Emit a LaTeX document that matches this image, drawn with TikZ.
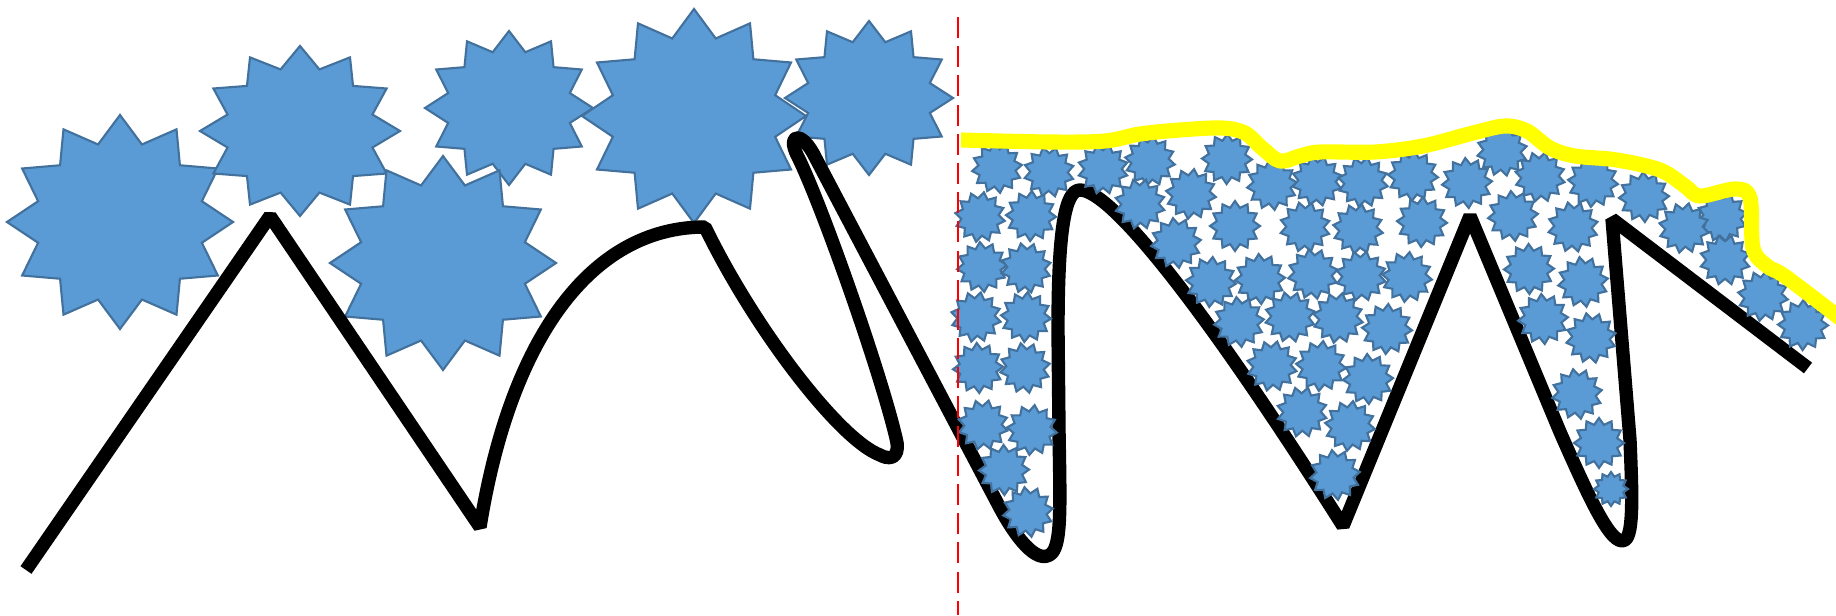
\documentclass[tikz,border=0pt]{standalone}
\usepackage{xcolor}
\usepackage{tikz}
\definecolor{StarFill}{HTML}{5B9BD5}
\definecolor{StarEdge}{HTML}{41719C}
\definecolor{CrestYellow}{HTML}{FFFF00}
\definecolor{CutRed}{HTML}{FF0000}
\tikzset{
  bigstar/.style={fill=StarFill, draw=StarEdge, line width=0.6pt},
  smallstar/.style={fill=StarFill, draw=StarEdge, line width=0.6pt},
  ridge/.style={line width=3.8pt, black, line join=bevel},
  crest/.style={line width=4.3pt, CrestYellow, line join=round},
  cutline/.style={CutRed, line width=0.75pt, dash pattern=on 6pt off 2.3pt}
}

\begin{document}
\begin{tikzpicture}[x=0.01cm, y=-0.01cm]

\fill[white] (0,0) rectangle (1836,615);
\useasboundingbox (0,0) rectangle (1836,615);

% --- BIG STARS (LEFT HALF) ---
\begin{scope}[shift={(120,222)}, xscale=113, yscale=107]
    \draw[bigstar] (90:1) \foreach \k in {1,...,23}{ -- (90+15*\k:{1-0.25*mod(\k,2)})} -- cycle;
\end{scope}
\begin{scope}[shift={(300,131)}, xscale=100, yscale=85]
    \draw[bigstar] (90:1) \foreach \k in {1,...,23}{ -- (90+15*\k:{1-0.25*mod(\k,2)})} -- cycle;
\end{scope}
\begin{scope}[shift={(509,108)}, xscale=84, yscale=77]
    \draw[bigstar] (90:1) \foreach \k in {1,...,23}{ -- (90+15*\k:{1-0.25*mod(\k,2)})} -- cycle;
\end{scope}
\begin{scope}[shift={(869,98)}, xscale=84, yscale=77]
    \draw[bigstar] (90:1) \foreach \k in {1,...,23}{ -- (90+15*\k:{1-0.25*mod(\k,2)})} -- cycle;
\end{scope}
\begin{scope}[shift={(694,116)}, xscale=112, yscale=107]
    \draw[bigstar] (90:1) \foreach \k in {1,...,23}{ -- (90+15*\k:{1-0.25*mod(\k,2)})} -- cycle;
\end{scope}
\begin{scope}[shift={(443,263)}, xscale=113, yscale=107]
    \draw[bigstar] (90:1) \foreach \k in {1,...,23}{ -- (90+15*\k:{1-0.25*mod(\k,2)})} -- cycle;
\end{scope}

% --- BLACK RIDGE LINE ---
\draw[ridge] (26,570) -- (270,216) -- (480,527)
    .. controls (510,340) and (590,227) .. (705,227)
    .. controls (755,330) and (840,440) .. (880,455)
    .. controls (895,463) and (900,452) .. (896,438)   % lower hairpin
    .. controls (880,370) and (820,200) .. (797,155)
    .. controls (787,135) and (800,130) .. (813,153)   % upper hairpin
    -- (1000,508)
    .. controls (1020,545) and (1040,565) .. (1052,553)
    .. controls (1062,542) and (1060,500) .. (1059,430)
    -- (1058,330)
    .. controls (1058,230) and (1065,190) .. (1080,190)
    .. controls (1110,190) and (1200,300) .. (1343,526)
    -- (1470,216) -- (1560,432)
    .. controls (1590,500) and (1612,548) .. (1625,540)
    .. controls (1634,534) and (1632,490) .. (1630,440)
    -- (1612,219) -- (1808,368);

% --- SMALL STARS (RIGHT HALF) ---
\foreach \sx/\sy [count=\i] in {997/168, 1049/172, 980/217, 1031/216, 982/267, 1026/268,
    976/317, 1026/317, 978/368, 1025/368, 983/425, 1032/430, 1004/470, 1028/512,
    1103/169, 1150/161, 1227/159, 1272/185, 1317/181, 1363/182, 1413/176, 1467/183,
    1502/151, 1540/177, 1593/182, 1644/197, 1722/217,
    1140/204, 1191/194, 1235/226, 1176/243, 1305/227, 1358/229, 1422/222, 1513/216,
    1573/227, 1684/228,
    1211/282, 1260/279, 1313/274, 1361/276, 1407/277, 1529/269, 1583/282, 1725/260,
    1763/296, 1803/325,
    1239/322, 1290/317, 1338/318, 1387/329, 1543/319, 1591/338,
    1272/366, 1321/366, 1368/379, 1577/394,
    1302/412, 1350/426, 1599/443, 1335/475} {
  \begin{scope}[shift={(\sx,\sy)}, rotate=7*\i, scale=25]
    \draw[smallstar] (90:1) \foreach \k in {1,...,23}{ -- (90+15*\k:{1-0.25*mod(\k,2)})} -- cycle;
  \end{scope}
}
\begin{scope}[shift={(1611,489)}, scale=17]
    \draw[smallstar] (90:1) \foreach \k in {1,...,23}{ -- (90+15*\k:{1-0.25*mod(\k,2)})} -- cycle;
\end{scope}

% --- YELLOW CREST ---
\draw[crest] plot[smooth, tension=0.55] coordinates {(961,140) (1050,142) (1105,141)
    (1140,134) (1180,130) (1222,128) (1245,133) (1262,148) (1280,161) (1300,156)
    (1320,152) (1375,152) (1423,146) (1473,133) (1505,126) (1527,131) (1550,148)
    (1575,156) (1617,160) (1660,170) (1685,186) (1700,196) (1735,189) (1750,198)
    (1753,248) (1767,266) (1786,277) (1845,322)};

% --- RED CUT LINE ---
\draw[cutline] (958,17) -- (958,615);

\end{tikzpicture}
\end{document}
